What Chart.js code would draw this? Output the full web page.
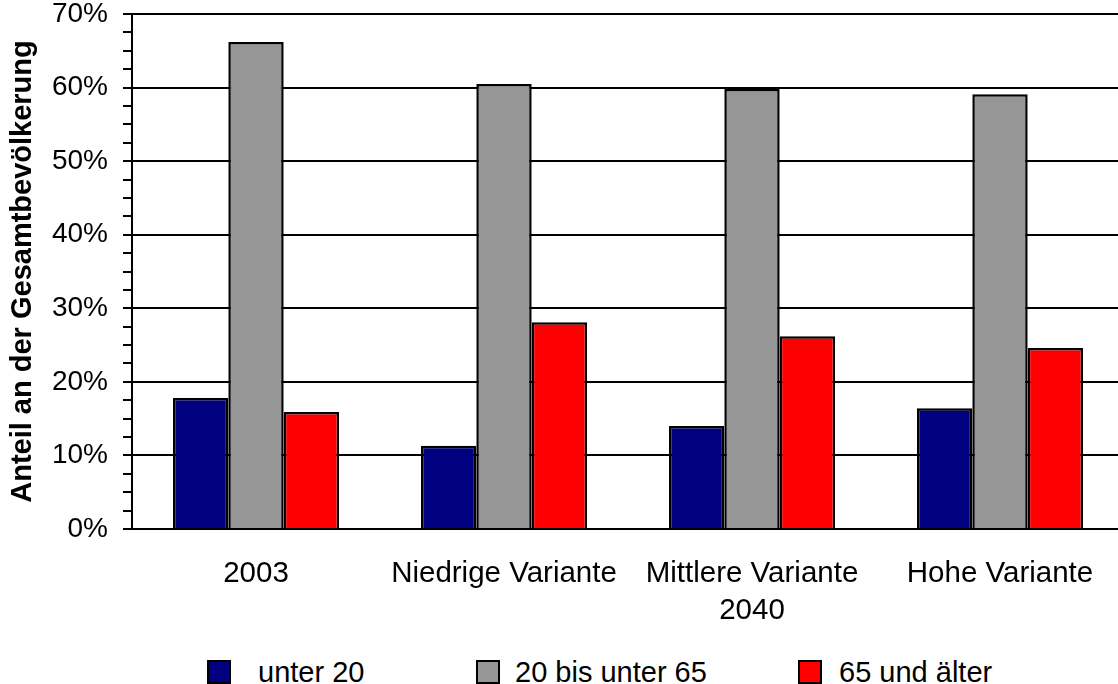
<!DOCTYPE html>
<html lang="de">
<head>
    <meta charset="UTF-8">
    <title>Anteil an der Gesamtbevölkerung</title>
    <script src="https://cdn.jsdelivr.net/npm/chart.js"></script>
    <style>
body {
    margin: 0;
    padding: 0;
    background-color: #fff;
    overflow: hidden;
    font-family: 'Liberation Sans', Arial, sans-serif;
}

#wrap {
    position: relative;
    width: 1124px;
    height: 684px;
}

#chart-box {
    position: absolute;
    left: 0;
    top: 0;
    width: 1124px;
    height: 630px;
}

.legend-box {
    position: absolute;
    top: 660px;
    width: 24px;
    height: 24px;
    box-sizing: border-box;
    border: 2px solid #000;
}

.legend-text {
    position: absolute;
    top: 658px;
    font-size: 29px;
    line-height: 29px;
    color: #000;
    white-space: nowrap;
}
    </style>
</head>
<body>
    <div id="wrap">
        <div id="chart-box">
            <canvas id="popChart"></canvas>
        </div>
    </div>

    <script>
        // Kategorien (Mittlere Variante trägt die Jahreszahl 2040 als zweite Zeile)
        const categories = ['2003', 'Niedrige Variante', ['Mittlere Variante', '2040'], 'Hohe Variante'];

        // Anteile in Prozent
        const seriesNames = ['unter 20', '20 bis unter 65', '65 und älter'];
        const unter20 = [17.8, 11.3, 14.0, 16.4];
        const bis65 = [66.2, 60.5, 59.8, 59.1];
        const ab65 = [15.9, 28.1, 26.2, 24.6];
        const seriesColors = ['#000080', '#969696', '#ff0000'];

        // y-Achse
        const yMax = 70;
        const yMajorStep = 10;
        const yMinorStep = 2.5;

        // Legendenpositionen (Kasten, Text)
        const legendBoxX = [207, 476, 798];
        const legendTextX = [258, 515, 839];

        const FONT = "'Liberation Sans', Arial, sans-serif";
        Chart.defaults.font.family = FONT;
        Chart.defaults.color = '#000';

        const values = [unter20, bis65, ab65];
        const datasets = values.map((data, i) => ({
            label: seriesNames[i],
            data: data,
            backgroundColor: seriesColors[i],
            borderColor: '#000',
            borderWidth: 2.5,
            categoryPercentage: 0.67,
            barPercentage: 1.0
        }));

        const ctx = document.getElementById('popChart').getContext('2d');
        const chart = new Chart(ctx, {
            type: 'bar',
            data: {
                labels: categories,
                datasets: datasets
            },
            options: {
                responsive: true,
                maintainAspectRatio: false,
                animation: false,
                layout: {
                    padding: 0
                },
                plugins: {
                    legend: { display: false },
                    tooltip: { enabled: false }
                },
                scales: {
                    x: {
                        grid: { display: false, drawTicks: false },
                        border: { display: true, color: '#000', width: 2 },
                        ticks: {
                            font: { size: 29.5, lineHeight: 1.254 },
                            padding: 26,
                            maxRotation: 0,
                            autoSkip: false
                        },
                        afterFit: (scale) => {
                            scale.height = 101;
                            scale.paddingLeft = 0;
                            scale.paddingRight = 0;
                        }
                    },
                    y: {
                        min: 0,
                        max: yMax,
                        border: { display: true, color: '#000', width: 2 },
                        grid: {
                            color: (c) => (c.tick && c.tick.value % yMajorStep === 0) ? '#000' : 'rgba(0,0,0,0)',
                            tickColor: '#000',
                            lineWidth: 2,
                            tickLength: 9
                        },
                        ticks: {
                            stepSize: yMinorStep,
                            autoSkip: false,
                            padding: 15,
                            font: { size: 28, lineHeight: 1 },
                            callback: (v) => (v % yMajorStep === 0) ? v + '%' : ''
                        },
                        title: {
                            display: true,
                            text: 'Anteil an der Gesamtbevölkerung',
                            font: { size: 29, weight: 'bold', lineHeight: 1.2 },
                            padding: { top: 6, bottom: 11 }
                        },
                        afterFit: (scale) => {
                            scale.width = 132;
                            scale.paddingTop = 14;
                            scale.paddingBottom = 14;
                        }
                    }
                }
            }
        });

        // Legende unter dem Diagramm
        const wrap = document.getElementById('wrap');
        seriesNames.forEach((name, i) => {
            const box = document.createElement('div');
            box.className = 'legend-box';
            box.style.left = legendBoxX[i] + 'px';
            box.style.backgroundColor = seriesColors[i];
            wrap.appendChild(box);

            const txt = document.createElement('div');
            txt.className = 'legend-text';
            txt.style.left = legendTextX[i] + 'px';
            txt.textContent = name;
            wrap.appendChild(txt);
        });
    </script>
</body>
</html>
